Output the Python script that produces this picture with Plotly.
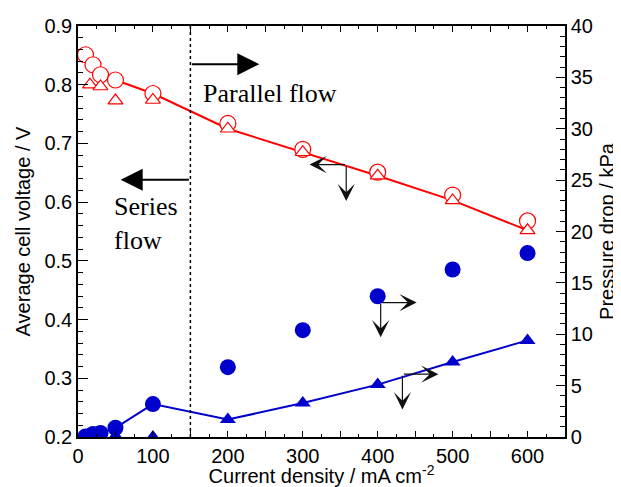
import plotly.graph_objects as go

# ---- data ----
# Series flow (circles)
x_series = [10, 20, 30, 50, 100, 200, 300, 400, 500, 600]
v_series = [0.851, 0.834, 0.817, 0.808, 0.785, 0.734, 0.690, 0.651, 0.612, 0.568]
dp_series = [0.05, 0.3, 0.4, 0.9, 3.2, 6.8, 10.4, 13.7, 16.3, 17.9]

# Parallel flow (triangles)
x_parallel = [16, 30, 50, 100, 200, 300, 400, 500, 600]
v_parallel = [0.800, 0.797, 0.773, 0.774, 0.725, 0.685, 0.645, 0.603, 0.552]
dp_parallel = [0.0, 0.1, 0.1, 0.0, 1.7, 3.3, 5.1, 7.3, 9.4]

# Connecting line: series below the switch point, parallel above
switch_x = 150
line_x = [x for x in x_series if x < switch_x] + [x for x in x_parallel if x > switch_x]
line_v = [v for x, v in zip(x_series, v_series) if x < switch_x] + \
         [v for x, v in zip(x_parallel, v_parallel) if x > switch_x]
line_dp = [d for x, d in zip(x_series, dp_series) if x < switch_x] + \
          [d for x, d in zip(x_parallel, dp_parallel) if x > switch_x]

x_tick_vals = list(range(0, 651, 50))
x_tick_text = [str(v) if (v % 100 == 0 and v <= 600) else "" for v in x_tick_vals]

RED = "#ff0000"
BLUE = "#0000cc"
SANS = "Liberation Sans, Arial, sans-serif"
SERIF = "Liberation Serif, Times New Roman, serif"

fig = go.Figure()

fig.add_trace(go.Scatter(x=line_x, y=line_v, mode="lines",
                         line=dict(color=RED, width=2), showlegend=False))
fig.add_trace(go.Scatter(x=x_series, y=v_series, mode="markers",
                         marker=dict(symbol="circle", size=16, color="white",
                                     line=dict(color=RED, width=1.2)),
                         showlegend=False))
fig.add_trace(go.Scatter(x=x_parallel, y=v_parallel, mode="markers",
                         marker=dict(symbol="triangle-up", size=13, color="white",
                                     line=dict(color=RED, width=1.2)),
                         showlegend=False))

fig.add_trace(go.Scatter(x=line_x, y=line_dp, mode="lines", yaxis="y2",
                         line=dict(color=BLUE, width=2), showlegend=False))
fig.add_trace(go.Scatter(x=x_series, y=dp_series, mode="markers", yaxis="y2",
                         marker=dict(symbol="circle", size=16, color=BLUE),
                         showlegend=False))
fig.add_trace(go.Scatter(x=x_parallel, y=dp_parallel, mode="markers", yaxis="y2",
                         marker=dict(symbol="triangle-up", size=14, color=BLUE),
                         showlegend=False))

# dotted boundary line
fig.add_shape(type="line", xref="x", yref="paper", x0=switch_x, x1=switch_x,
              y0=0, y1=1, line=dict(color="black", width=1.5, dash="dot"))

annotations = []
# big arrows
annotations.append(dict(x=242, y=0.835, ax=switch_x, ay=0.835, xref="x", yref="y",
                        axref="x", ayref="y", showarrow=True, arrowhead=2,
                        arrowsize=2.2, arrowwidth=2, arrowcolor="black", text=""))
annotations.append(dict(x=57, y=0.638, ax=switch_x, ay=0.638, xref="x", yref="y",
                        axref="x", ayref="y", showarrow=True, arrowhead=2,
                        arrowsize=2.2, arrowwidth=2, arrowcolor="black", text=""))
# small axis-indicator arrows
small = [
    ((358, 0.664), (309, 0.664)), ((358, 0.664), (358, 0.602)),
    ((404, 0.429), (452, 0.429)), ((404, 0.429), (404, 0.370)),
    ((433, 0.307), (481, 0.307)), ((433, 0.307), (433, 0.247)),
]
for (tx, ty), (hx, hy) in small:
    annotations.append(dict(x=hx, y=hy, ax=tx, ay=ty, xref="x", yref="y",
                            axref="x", ayref="y", showarrow=True, arrowhead=3,
                            arrowsize=2.4, arrowwidth=1.2, arrowcolor="#111111", text=""))

annotations.append(dict(x=164, y=0.7855, xref="x", yref="y", text="Parallel flow",
                        showarrow=False, xanchor="left", yanchor="middle",
                        font=dict(family=SERIF, size=26, color="black")))
annotations.append(dict(x=46, y=0.563, xref="x", yref="y", text="Series<br>flow",
                        showarrow=False, xanchor="left", yanchor="middle", align="left",
                        font=dict(family=SERIF, size=26, color="black")))

fig.update_layout(
    width=613, height=479,
    margin=dict(l=70, r=56, t=18, b=50, autoexpand=False),
    paper_bgcolor="white", plot_bgcolor="white",
    font=dict(family=SANS, size=20, color="black"),
    annotations=annotations,
    xaxis=dict(range=[0, 650], tickmode="array", tickvals=x_tick_vals, ticktext=x_tick_text,
               ticks="inside", ticklen=6, tickwidth=1.2, tickcolor="black",
               minor=dict(dtick=25, ticks="inside", ticklen=3, tickcolor="black", tickwidth=1),
               showline=True, linecolor="black", linewidth=1.5, mirror="ticks",
               showgrid=False, zeroline=False,
               title=dict(text="Current density / mA cm<sup>-2</sup>", standoff=9,
                          font=dict(size=20))),
    yaxis=dict(range=[0.2, 0.9], dtick=0.1, tick0=0.2, tickformat=".1f",
               ticks="inside", ticklen=10, tickwidth=1.2, tickcolor="black",
               minor=dict(dtick=0.02, ticks="inside", ticklen=5, tickcolor="black", tickwidth=1),
               showline=True, linecolor="black", linewidth=1.5,
               showgrid=False, zeroline=False,
               title=dict(text="Average cell voltage / V", standoff=8, font=dict(size=20))),
    yaxis2=dict(range=[0, 40], dtick=5, overlaying="y", side="right",
                ticks="inside", ticklen=9, tickwidth=1.2, tickcolor="black",
                minor=dict(dtick=1, ticks="inside", ticklen=5, tickcolor="black", tickwidth=1),
                showline=True, linecolor="black", linewidth=1.5,
                showgrid=False, zeroline=False,
                title=dict(text="Pressure drop / kPa", standoff=8, font=dict(size=20))),
)

fig.write_html("out.html")
